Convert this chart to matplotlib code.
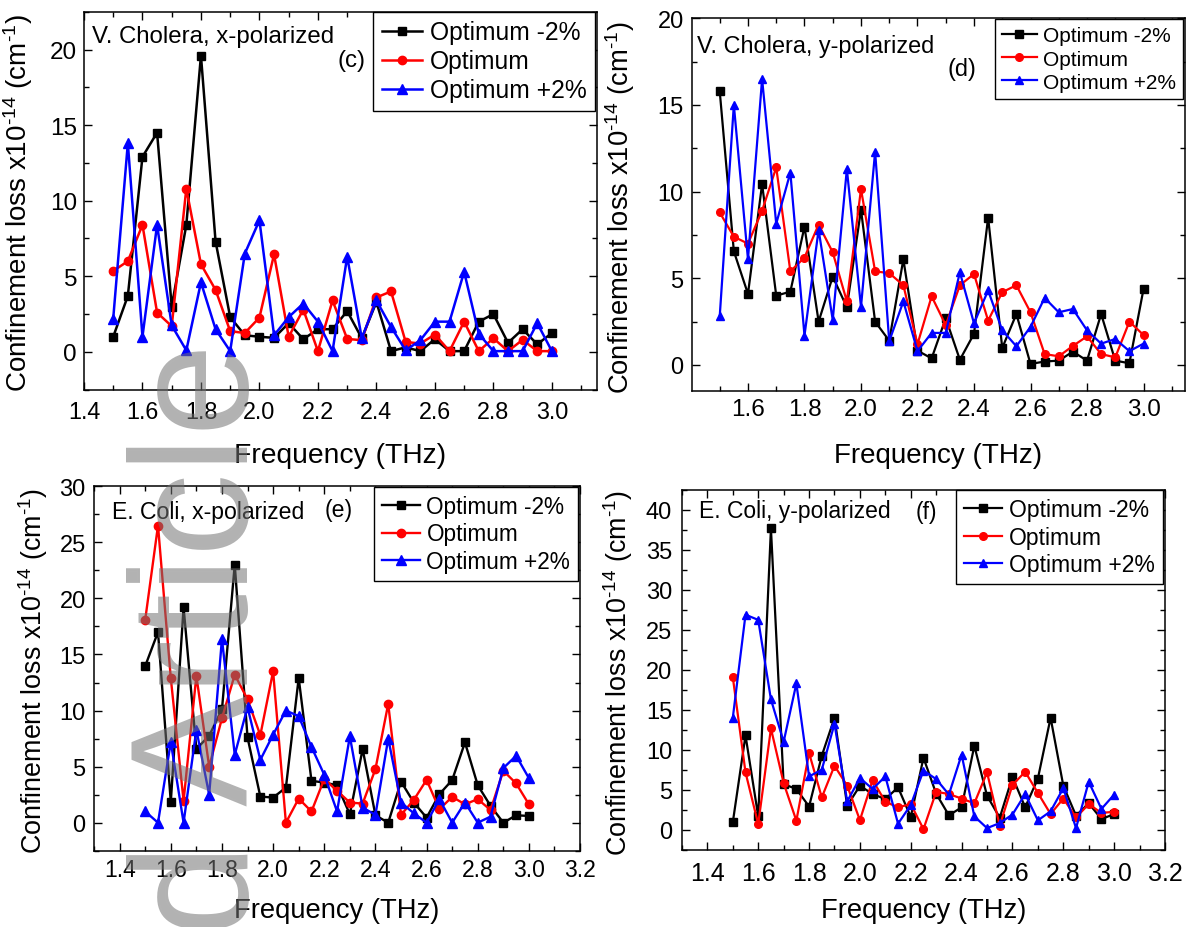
import matplotlib
matplotlib.use('Agg')
import matplotlib.pyplot as plt
from matplotlib.ticker import MultipleLocator, FormatStrFormatter

plt.rcParams['font.family'] = ['Liberation Sans', 'DejaVu Sans']
plt.rcParams['mathtext.fontset'] = 'custom'
plt.rcParams['mathtext.rm'] = 'Liberation Sans'
plt.rcParams['mathtext.it'] = 'Liberation Sans:italic'
plt.rcParams['mathtext.default'] = 'regular'

freq = [1.50, 1.55, 1.60, 1.65, 1.70, 1.75, 1.80, 1.85, 1.90, 1.95, 2.00,
        2.05, 2.10, 2.15, 2.20, 2.25, 2.30, 2.35, 2.40, 2.45, 2.50, 2.55,
        2.60, 2.65, 2.70, 2.75, 2.80, 2.85, 2.90, 2.95, 3.00]

# V. Cholera, x-polarized (c)
vc_x_minus = [1.0, 3.7, 12.9, 14.5, 3.0, 8.4, 19.6, 7.3, 2.3, 1.1, 1.0,
              0.93, 1.9, 0.84, 1.5, 1.5, 2.7, 0.9, 3.3, 0.05, 0.3, 0.05,
              0.84, 0.05, 0.05, 2.0, 2.5, 0.6, 1.5, 0.5, 1.25]
vc_x_opt = [5.35, 6.0, 8.4, 2.6, 1.7, 10.8, 5.8, 4.1, 1.37, 1.25, 2.27,
            6.45, 1.0, 2.8, 0.05, 3.4, 0.86, 0.77, 3.6, 4.0, 0.66, 0.55,
            1.15, 0.05, 2.0, 0.05, 0.9, 0.05, 0.8, 0.05, 0.05]
vc_x_plus = [2.2, 13.8, 1.0, 8.4, 1.75, 0.1, 4.6, 1.5, 0.05, 6.5, 8.7,
             1.1, 2.3, 3.2, 2.0, 0.05, 6.3, 0.9, 3.4, 1.65, 0.1, 0.77,
             2.0, 2.0, 5.3, 1.2, 0.05, 0.05, 0.05, 1.9, 0.05]

# V. Cholera, y-polarized (d)
vc_y_minus = [15.8, 6.56, 4.1, 10.44, 4.0, 4.23, 7.98, 2.5, 5.1, 3.33, 8.96,
              2.5, 1.4, 6.1, 0.83, 0.38, 2.7, 0.3, 1.8, 8.5, 0.98, 2.94,
              0.06, 0.2, 0.25, 0.77, 0.25, 2.94, 0.25, 0.1, 4.38]
vc_y_opt = [8.8, 7.4, 7.0, 8.9, 11.4, 5.4, 6.2, 8.1, 6.5, 3.67, 10.15,
            5.4, 5.3, 4.6, 1.2, 3.96, 2.3, 4.6, 5.25, 2.56, 4.2, 4.6,
            3.04, 0.63, 0.5, 1.1, 1.65, 0.63, 0.44, 2.5, 1.73]
vc_y_plus = [2.8, 15.0, 6.1, 16.5, 8.15, 11.1, 1.7, 7.8, 2.6, 11.3, 3.35,
             12.3, 1.37, 3.67, 0.8, 1.85, 1.85, 5.35, 2.4, 4.3, 2.0, 1.08,
             2.2, 3.87, 3.04, 3.23, 2.0, 1.23, 1.5, 0.8, 1.23]

# E. Coli, x-polarized (e)
ec_x_minus = [13.97, 17.0, 1.85, 19.2, 6.57, 7.76, 10.1, 23.0, 7.6, 2.33, 2.24,
              3.13, 12.9, 3.73, 3.58, 3.34, 0.75, 6.57, 0.66, 0.0, 3.67, 1.8,
              0.45, 2.54, 3.8, 7.16, 3.34, 1.5, 0.0, 0.66, 0.6]
ec_x_opt = [18.1, 26.5, 12.9, 1.94, 13.1, 5.0, 9.3, 13.2, 11.0, 7.8, 13.5,
            0.0, 2.15, 1.0, 3.9, 2.84, 1.8, 1.7, 4.78, 10.6, 0.7, 2.03,
            3.82, 1.2, 2.3, 1.64, 2.1, 1.13, 4.63, 3.5, 1.64]
ec_x_plus = [1.0, 0.0, 7.2, 0.0, 8.3, 2.5, 16.4, 6.06, 10.3, 5.6, 7.85,
             10.0, 9.5, 6.75, 4.27, 1.0, 7.7, 1.35, 0.7, 7.5, 1.8, 0.84,
             0.0, 2.1, 0.0, 1.8, 0.0, 0.54, 4.87, 5.97, 3.97]

# E. Coli, y-polarized (f)
ec_y_minus = [0.92, 11.8, 1.67, 37.7, 5.7, 5.1, 2.9, 9.25, 14.0, 3.0, 5.5,
              4.46, 3.83, 5.3, 1.6, 9.0, 4.5, 1.8, 2.8, 10.5, 4.25, 1.5,
              6.6, 2.8, 6.4, 14.0, 5.5, 1.75, 3.3, 1.33, 1.96]
ec_y_opt = [19.1, 7.17, 0.7, 12.67, 5.83, 1.13, 9.6, 4.04, 8.0, 5.5, 1.2,
            6.2, 3.5, 2.8, 3.2, 0.08, 4.75, 4.46, 3.9, 3.3, 7.17, 0.5,
            5.6, 7.25, 4.6, 1.96, 3.9, 1.54, 3.2, 2.1, 2.25]
ec_y_plus = [14.0, 26.9, 26.25, 16.3, 11.0, 18.3, 6.67, 7.5, 13.25, 3.54, 6.46,
             5.1, 6.67, 0.75, 3.1, 7.4, 6.33, 4.4, 9.4, 1.67, 0.2, 0.83,
             1.9, 4.46, 1.17, 2.3, 5.2, 0.2, 6.0, 2.6, 4.4]

series_labels = ['Optimum -2%', 'Optimum', 'Optimum +2%']
ylabel = 'Confinement loss x10$^{\u201014}$ (cm$^{\u20101}$)'


def draw_panel(ax, ys, xlim, ylim, xmax_tick, ymax_tick, name, tag, name_xy, tag_xy,
               fs_name, fs_leg, fs_xt, fs_yt, pad_x, pad_y, fs_lab, xlab_y, ylab_x,
               leg_anchor, lw, ms):
    styles = [('black', 's'), ('red', 'o'), ('blue', '^')]
    for y, (c, m), lab in zip(ys, styles, series_labels):
        ax.plot(freq, y, color=c, marker=m, lw=lw,
                ms=ms * (1.15 if m == '^' else 1.0), label=lab)
    ax.set_xlim(*xlim)
    ax.set_ylim(*ylim)
    ax.xaxis.set_major_locator(MultipleLocator(0.2))
    ax.xaxis.set_minor_locator(MultipleLocator(0.1))
    ax.yaxis.set_major_locator(MultipleLocator(5))
    ax.yaxis.set_minor_locator(MultipleLocator(2.5))
    ax.xaxis.set_major_formatter(FormatStrFormatter('%.1f'))
    ax.set_xticks([t for t in ax.get_xticks() if 1.39 < t < xmax_tick])
    ax.set_yticks([t for t in ax.get_yticks() if -0.1 < t < ymax_tick])
    ax.set_xlim(*xlim)
    ax.set_ylim(*ylim)
    ax.tick_params(which='both', direction='in', top=True, right=True, width=1)
    ax.tick_params(which='major', length=6)
    ax.tick_params(which='minor', length=3.5)
    ax.tick_params(axis='x', labelsize=fs_xt, pad=pad_x)
    ax.tick_params(axis='y', labelsize=fs_yt, pad=pad_y)
    for s in ax.spines.values():
        s.set_linewidth(1.1)
    ax.text(name_xy[0], name_xy[1], name, transform=ax.transAxes,
            fontsize=fs_name, ha='left', va='center')
    ax.text(tag_xy[0], tag_xy[1], tag, transform=ax.transAxes,
            fontsize=fs_name, ha='center', va='center')
    ax.set_xlabel('Frequency (THz)', fontsize=fs_lab)
    ax.xaxis.set_label_coords(0.5, xlab_y)
    ax.set_ylabel(ylabel, fontsize=fs_lab - 0.3)
    ax.yaxis.set_label_coords(ylab_x, 0.495)
    leg = ax.legend(loc='upper right', bbox_to_anchor=leg_anchor, borderaxespad=0,
                    fancybox=False, edgecolor='black', framealpha=1, fontsize=fs_leg,
                    handlelength=1.65, handletextpad=0.3, labelspacing=0.2,
                    borderpad=0.35, numpoints=1)
    leg.get_frame().set_linewidth(1.0)


fig = plt.figure(figsize=(11.86, 9.28), dpi=100)

ax_c = fig.add_axes([0.0708, 0.579, 0.4325, 0.4073])
draw_panel(ax_c, (vc_x_minus, vc_x_opt, vc_x_plus), (1.4, 3.154), (-2.5, 22.5), 3.05, 21,
           'V. Cholera, x-polarized', '(c)', (0.016, 0.936), (0.522, 0.872),
           17.3, 17.7, 16.8, 17.5, 7.5, 5, 20.3, -0.138, -0.0955, (0.996, 1.0), 1.8, 6)

ax_d = fig.add_axes([0.5835, 0.5776, 0.4157, 0.4016])
draw_panel(ax_d, (vc_y_minus, vc_y_opt, vc_y_plus), (1.402, 3.147), (-1.5, 20), 3.05, 21,
           'V. Cholera, y-polarized', '(d)', (0.01, 0.9265), (0.547, 0.866),
           16.9, 15, 17.5, 17, 5, 6, 20, -0.137, -0.1116, (0.996, 0.998), 1.6, 5.5)

ax_e = fig.add_axes([0.0793, 0.0822, 0.4098, 0.3927])
draw_panel(ax_e, (ec_x_minus, ec_x_opt, ec_x_plus), (1.3, 3.2), (-2.5, 30), 3.25, 31,
           'E. Coli, x-polarized', '(e)', (0.0377, 0.930), (0.5027, 0.936),
           16.6, 16.3, 16.5, 17, 5, 6, 19.7, -0.127, -0.0905, (0.996, 0.998), 1.7, 6)

ax_f = fig.add_axes([0.575, 0.0833, 0.4073, 0.3876])
draw_panel(ax_f, (ec_y_minus, ec_y_opt, ec_y_plus), (1.3, 3.2), (-2.5, 42.5), 3.25, 41,
           'E. Coli, y-polarized', '(f)', (0.035, 0.9425), (0.505, 0.941),
           16.5, 16.5, 18, 17, 8, 7, 19.7, -0.1315, -0.0973, (0.996, 1.0), 1.6, 5.5)

# grey "Accepted Article" stamp running up the left side
fig.text(248 / 1186, 1 - 343 / 928, 'Accepted Article', rotation=90,
         rotation_mode='anchor', ha='right', va='baseline', fontsize=120,
         color='0.45', alpha=0.55, zorder=10)

fig.savefig('out.png', dpi=100)
